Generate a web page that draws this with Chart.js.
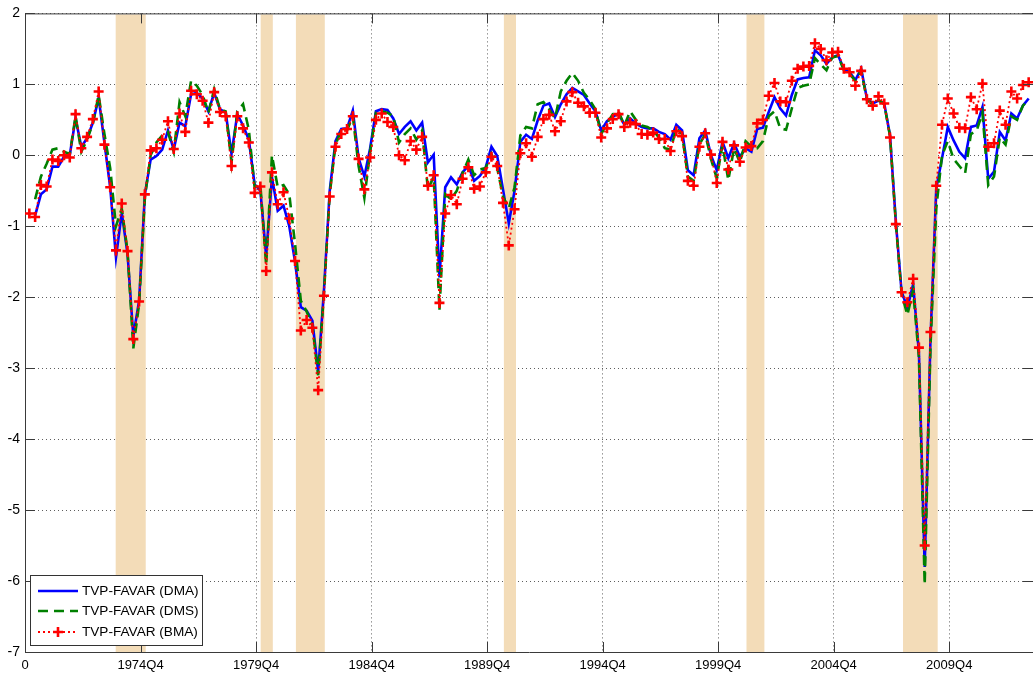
<!DOCTYPE html>
<html>
<head>
<meta charset="utf-8">
<script src="https://cdn.jsdelivr.net/npm/chart.js@4.4.0/dist/chart.umd.min.js"></script>
<style>
  html, body { margin: 0; padding: 0; background: #fff; }
  #wrap { width: 1033px; height: 675px; }
</style>
</head>
<body>
<div id="wrap"><canvas id="chart" width="1033" height="675"></canvas></div>
<script>
// x tick positions (quarters from the start) and their labels
const tickValues = [0, 20, 40, 60, 80, 100, 120, 140, 160];
const tickLabels = ["0", "1974Q4", "1979Q4", "1984Q4", "1989Q4", "1994Q4", "1999Q4", "2004Q4", "2009Q4"];

// NBER recessions, in the same quarter units as the x axis
const recessions = [[15.7, 20.9], [40.8, 42.9], [46.9, 51.9], [82.9, 85.0], [124.9, 128.0], [152.0, 158.0]];

const seriesNames = ["TVP-FAVAR (DMA)", "TVP-FAVAR (DMS)", "TVP-FAVAR (BMA)"];

// quarterly values, 1970Q1 onwards
const dma = [null,-0.85,-0.55,-0.48,-0.16,-0.16,-0.02,0.00,0.52,0.12,
  0.24,0.46,0.81,0.18,-0.45,-1.44,-0.81,-1.39,-2.55,-2.05,
  -0.55,-0.06,-0.01,0.08,0.35,0.08,0.46,0.41,0.86,0.88,
  0.80,0.62,0.88,0.65,0.60,0.02,0.58,0.42,0.22,-0.41,
  -0.50,-1.42,-0.31,-0.78,-0.71,-1.00,-1.50,-2.14,-2.19,-2.33,
  -3.05,-1.91,-0.50,0.20,0.37,0.38,0.63,-0.04,-0.30,0.10,
  0.62,0.65,0.64,0.52,0.30,0.40,0.48,0.35,0.46,-0.10,
  0.01,-1.72,-0.45,-0.31,-0.41,-0.24,-0.15,-0.36,-0.29,-0.17,
  0.12,-0.01,-0.48,-0.96,-0.50,0.19,0.29,0.23,0.49,0.70,
  0.73,0.54,0.72,0.86,0.95,0.90,0.85,0.73,0.62,0.35,
  0.48,0.54,0.59,0.43,0.52,0.45,0.40,0.38,0.38,0.33,
  0.30,0.22,0.43,0.35,-0.21,-0.28,0.24,0.35,0.00,-0.21,
  0.19,-0.04,0.17,-0.02,0.10,0.05,0.37,0.39,0.61,0.82,
  0.66,0.56,0.85,1.07,1.09,1.10,1.48,1.41,1.29,1.38,
  1.41,1.22,1.17,1.06,1.22,0.80,0.73,0.77,0.73,0.28,
  -0.93,-1.92,-2.15,-1.82,-2.78,-5.80,-2.60,-0.47,-0.04,0.40,
  0.21,0.05,-0.04,0.40,0.42,0.68,-0.33,-0.23,0.33,0.21,
  0.59,0.52,0.70,0.80];

const dms = [null,-0.62,-0.30,-0.12,0.08,0.10,0.05,0.02,0.55,0.05,
  0.22,0.45,0.85,0.30,-0.18,-1.00,-0.75,-1.35,-2.72,-2.10,
  -0.60,0.00,0.18,0.28,0.33,0.05,0.75,0.55,1.05,0.98,
  0.85,0.60,0.93,0.65,0.62,-0.10,0.62,0.72,0.36,-0.45,
  -0.42,-1.55,0.00,-0.45,-0.42,-0.55,-1.25,-2.05,-2.20,-2.40,
  -3.10,-1.95,-0.55,0.15,0.35,0.35,0.55,-0.15,-0.60,0.05,
  0.60,0.62,0.60,0.55,0.18,0.30,0.38,0.22,0.35,-0.48,
  -0.30,-2.18,-0.55,-0.62,-0.50,-0.25,-0.06,-0.28,-0.20,-0.18,
  0.02,-0.18,-0.58,-0.75,-0.45,0.28,0.40,0.38,0.72,0.75,
  0.65,0.52,0.90,1.05,1.16,1.05,0.88,0.78,0.65,0.30,
  0.45,0.58,0.62,0.42,0.62,0.50,0.42,0.40,0.35,0.25,
  0.10,0.08,0.38,0.30,-0.30,-0.36,0.15,0.30,-0.05,-0.32,
  0.15,-0.35,0.10,-0.10,0.20,0.12,0.10,0.20,0.55,0.62,
  0.38,0.36,0.66,0.95,0.98,1.00,1.37,1.28,1.20,1.38,
  1.40,1.20,1.15,1.05,1.20,0.78,0.72,0.78,0.72,0.27,
  -0.95,-1.95,-2.25,-1.90,-2.85,-6.05,-2.70,-0.75,0.00,0.20,
  -0.05,-0.15,-0.25,0.30,0.35,0.60,-0.42,-0.30,0.25,0.15,
  0.55,0.50,0.70,0.78];

const bma = [-0.82,-0.87,-0.42,-0.44,-0.06,-0.08,0.00,-0.03,0.58,0.10,
  0.26,0.51,0.90,0.15,-0.45,-1.34,-0.68,-1.35,-2.59,-2.06,
  -0.55,0.07,0.10,0.22,0.48,0.09,0.59,0.33,0.91,0.86,
  0.77,0.46,0.89,0.61,0.55,-0.15,0.55,0.38,0.18,-0.53,
  -0.44,-1.63,-0.24,-0.69,-0.52,-0.89,-1.49,-2.47,-2.32,-2.43,
  -3.31,-1.98,-0.58,0.12,0.30,0.37,0.55,-0.05,-0.48,-0.03,
  0.50,0.59,0.47,0.40,0.00,-0.07,0.20,0.08,0.26,-0.43,
  -0.28,-2.08,-0.82,-0.56,-0.69,-0.33,-0.17,-0.47,-0.44,-0.24,
  -0.02,-0.15,-0.67,-1.27,-0.76,0.03,0.17,-0.02,0.26,0.51,
  0.57,0.34,0.48,0.76,0.89,0.74,0.69,0.60,0.60,0.25,
  0.38,0.51,0.58,0.40,0.46,0.44,0.30,0.29,0.32,0.23,
  0.23,0.06,0.34,0.27,-0.36,-0.43,0.12,0.31,0.01,-0.39,
  0.19,-0.20,0.14,-0.09,0.11,0.13,0.45,0.50,0.84,1.02,
  0.76,0.75,1.05,1.22,1.25,1.26,1.58,1.50,1.34,1.45,
  1.46,1.22,1.17,0.98,1.19,0.79,0.70,0.83,0.73,0.25,
  -0.97,-1.93,-2.07,-1.74,-2.71,-5.50,-2.49,-0.43,0.43,0.80,
  0.59,0.39,0.38,0.82,0.65,1.01,0.12,0.17,0.63,0.43,
  0.90,0.80,0.99,1.03];

const FONT = '"Liberation Sans", Arial, sans-serif';
const toPoints = (arr) => arr.map((v, i) => ({ x: i + 0.75, y: v }));

// recession shading, inner tick marks, box and legend
const matlabFrame = {
  id: "matlabFrame",
  beforeDatasetsDraw(chart) {
    const { ctx, chartArea: a, scales: { x } } = chart;
    ctx.save();
    ctx.fillStyle = "#f3dcb8";
    recessions.forEach(([s, e]) => {
      const x0 = x.getPixelForValue(s);
      const x1 = x.getPixelForValue(e);
      ctx.fillRect(x0, a.top + 1, x1 - x0, a.bottom - a.top - 1);
    });
    ctx.restore();
  },
  afterDraw(chart) {
    const { ctx, chartArea: a, scales: { x, y } } = chart;
    ctx.save();
    ctx.strokeStyle = "#3a3a3a";
    ctx.lineWidth = 1;
    ctx.beginPath();
    ctx.moveTo(a.left, a.top + 0.5);
    ctx.lineTo(a.right, a.top + 0.5);
    tickValues.forEach((v) => {
      const px = Math.round(x.getPixelForValue(v)) + 0.5;
      ctx.moveTo(px, a.bottom);
      ctx.lineTo(px, a.bottom - 10);
      ctx.moveTo(px, a.top);
      ctx.lineTo(px, a.top + 10);
    });
    for (let v = -7; v <= 2; v++) {
      const py = Math.round(y.getPixelForValue(v)) + 0.5;
      ctx.moveTo(a.left, py);
      ctx.lineTo(a.left + 10, py);
      ctx.moveTo(a.right, py);
      ctx.lineTo(a.right - 10, py);
    }
    ctx.stroke();

    // legend box
    const bx = 30.5, by = 575.5, bw = 172, bh = 70;
    ctx.fillStyle = "#fff";
    ctx.fillRect(bx, by, bw, bh);
    ctx.strokeStyle = "#333";
    ctx.strokeRect(bx, by, bw, bh);
    const rows = [591, 611, 632];
    chart.data.datasets.forEach((ds) => {
      const idx = seriesNames.indexOf(ds.label);
      const ry = rows[idx];
      ctx.save();
      ctx.strokeStyle = ds.borderColor;
      ctx.lineWidth = ds.borderWidth;
      ctx.setLineDash(ds.borderDash || []);
      ctx.beginPath();
      ctx.moveTo(38, ry);
      ctx.lineTo(78, ry);
      ctx.stroke();
      ctx.restore();
      if (ds.pointRadius > 0) {
        ctx.save();
        ctx.strokeStyle = ds.pointBorderColor;
        ctx.lineWidth = ds.pointBorderWidth;
        ctx.beginPath();
        ctx.moveTo(58 - 5, ry);
        ctx.lineTo(58 + 5, ry);
        ctx.moveTo(58, ry - 5);
        ctx.lineTo(58, ry + 5);
        ctx.stroke();
        ctx.restore();
      }
      ctx.fillStyle = "#000";
      ctx.font = "13.6px " + FONT;
      ctx.textBaseline = "middle";
      ctx.fillText(ds.label, 82, ry + 0.5);
    });
    ctx.restore();
  },
};

new Chart(document.getElementById("chart"), {
  type: "line",
  data: {
    datasets: [
      {
        label: seriesNames[0],
        data: toPoints(dma),
        borderColor: "#0000ff",
        borderWidth: 2.6,
        pointRadius: 0,
        order: 2,
      },
      {
        label: seriesNames[1],
        data: toPoints(dms),
        borderColor: "#008000",
        borderWidth: 2.6,
        borderDash: [10, 6],
        pointRadius: 0,
        order: 1,
      },
      {
        label: seriesNames[2],
        data: toPoints(bma),
        borderColor: "#ff0000",
        borderWidth: 1.8,
        borderDash: [2, 3],
        pointStyle: "cross",
        pointRadius: 5,
        pointBorderWidth: 2.6,
        pointBorderColor: "#ff0000",
        pointBackgroundColor: "#ff0000",
        order: 0,
      },
    ],
  },
  options: {
    responsive: false,
    animation: false,
    devicePixelRatio: 1,
    layout: { autoPadding: false, padding: { top: 10, right: 0, left: 0, bottom: 0 } },
    elements: { line: { tension: 0 } },
    plugins: { legend: { display: false }, tooltip: { enabled: false } },
    scales: {
      x: {
        type: "linear",
        min: 0,
        max: 174.5,
        afterBuildTicks: (s) => { s.ticks = tickValues.map((v) => ({ value: v })); },
        afterFit: (s) => { s.height = 23; },
        ticks: {
          autoSkip: false,
          maxRotation: 0,
          padding: 6,
          color: "#000",
          font: { family: FONT, size: 13 },
          callback: (v) => tickLabels[tickValues.indexOf(v)],
        },
        grid: { color: "rgba(40,40,40,0.75)", lineWidth: 1, drawTicks: false },
        border: { display: true, color: "#3a3a3a", dash: [1, 3] },
      },
      y: {
        min: -7,
        max: 2,
        afterFit: (s) => { s.width = 25; },
        ticks: {
          stepSize: 1,
          padding: 5,
          color: "#000",
          font: { family: FONT, size: 14 },
        },
        grid: { color: "rgba(40,40,40,0.75)", lineWidth: 1, drawTicks: false },
        border: { display: true, color: "#3a3a3a", dash: [1, 3] },
      },
    },
  },
  plugins: [matlabFrame],
});
</script>
</body>
</html>
